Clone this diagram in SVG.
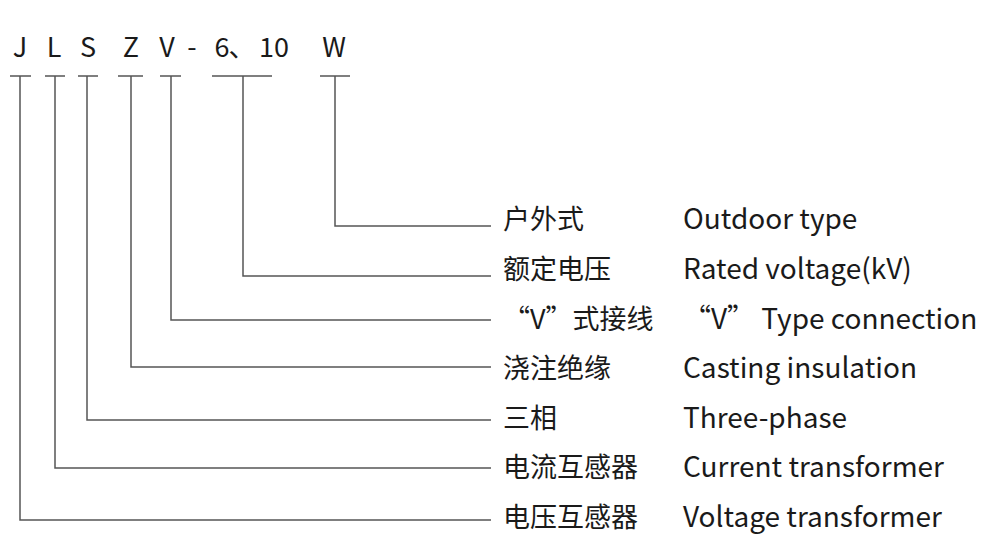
<svg xmlns="http://www.w3.org/2000/svg" width="1000" height="544" viewBox="0 0 1000 544">
<style>
.t{font-family:"Noto Sans CJK SC","Noto Sans",sans-serif;font-size:27px;fill:#1a1a1a}
.e{font-size:28px}
.h{font-size:27px;text-anchor:middle}
.ln{fill:none;stroke:#555;stroke-width:1.5}
</style>
<rect width="1000" height="544" fill="#fff"/>
<g id="code">
<text class="t h" x="20" y="57">J</text>
<text class="t h" x="54" y="57">L</text>
<text class="t h" x="88" y="57">S</text>
<text class="t h" x="131" y="57">Z</text>
<text class="t h" x="167" y="57">V</text>
<text class="t h" x="192" y="57">-</text>
<text class="t h" x="222" y="57">6</text>
<text class="t h" x="242" y="57">、</text>
<text class="t h" x="274" y="57">10</text>
<text class="t h" x="334" y="57">W</text>
</g>
<g id="connectors">
<path class="ln" d="M10,76H31M20,76V520H491"/>
<path class="ln" d="M45,76H65M55,76V468H491"/>
<path class="ln" d="M78,76H98M87,76V420H491"/>
<path class="ln" d="M118,76H143M131,76V367H491"/>
<path class="ln" d="M160,76H181M171,76V320H491"/>
<path class="ln" d="M212,76H272M243,76V276H491"/>
<path class="ln" d="M320,76H350M335,76V226H491"/>
</g>
<g id="n-w"><text class="t" x="503" y="229">户外式</text><text class="t e" x="683" y="229">Outdoor type</text></g>
<g id="n-rated"><text class="t" x="503" y="279">额定电压</text><text class="t e" x="683" y="279">Rated voltage(kV)</text></g>
<g id="n-v"><text class="t" x="503" y="329">“V”式接线</text><text class="t e" x="683" y="329">“V” Type connection</text></g>
<g id="n-z"><text class="t" x="503" y="378">浇注绝缘</text><text class="t e" x="683" y="378">Casting insulation</text></g>
<g id="n-s"><text class="t" x="503" y="428">三相</text><text class="t e" x="683" y="428">Three-phase</text></g>
<g id="n-l"><text class="t" x="503" y="477">电流互感器</text><text class="t e" x="683" y="477">Current transformer</text></g>
<g id="n-j"><text class="t" x="503" y="527">电压互感器</text><text class="t e" x="683" y="527">Voltage transformer</text></g>
</svg>
